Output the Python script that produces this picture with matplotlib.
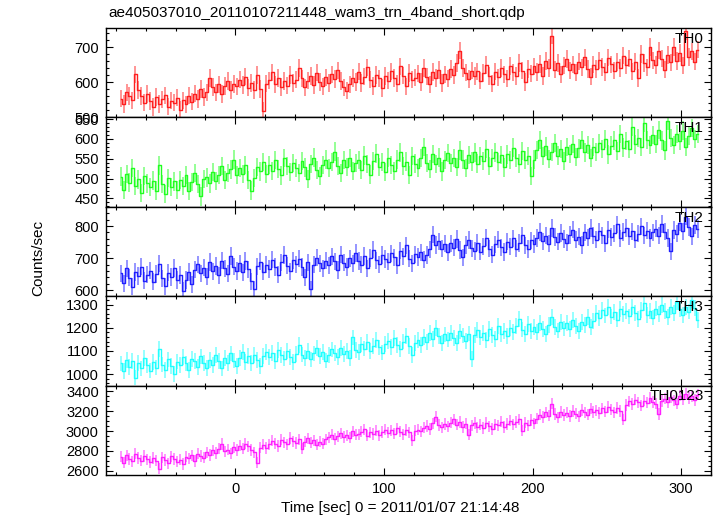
import numpy as np
import matplotlib
matplotlib.use('Agg')
import matplotlib.pyplot as plt
from matplotlib.ticker import MultipleLocator

# time grid: 2 s bins starting at -77 s
t_start = -77
t_step = 2

th0 = [553, 538, 571, 560, 548, 622, 577, 560, 541, 566,
       546, 529, 558, 537, 551, 562, 530, 547, 541, 556,
       520, 548, 536, 561, 544, 567, 552, 580, 558, 571,
       612, 586, 571, 594, 566, 589, 603, 578, 595, 588,
       607, 592, 616, 584, 598, 577, 620, 581, 517, 596,
       605, 628, 594, 612, 586, 603, 590, 621, 598, 607,
       641, 611, 585, 604, 618, 592, 627, 600, 588, 614,
       597, 622, 609, 634, 603, 585, 576, 594, 612, 601,
       630, 598, 616, 642, 607, 589, 621, 611, 583, 617,
       604, 631, 612, 596, 645, 619, 588, 626, 607, 613,
       625, 601, 640, 616, 594, 629, 612, 635, 598, 622,
       610, 638, 621, 655, 690, 640, 627, 609, 633, 618,
       631, 604, 626, 649, 617, 596, 630, 614, 641, 622,
       610, 646, 628, 617, 655, 633, 601, 638, 624, 645,
       629, 652, 618, 660, 641, 733, 636, 655, 622, 647,
       666, 634, 651, 627, 659, 642, 671, 638, 616, 650,
       637, 662, 644, 629, 670, 651, 633, 658, 641, 676,
       648, 667, 631, 659, 612, 680, 655, 642, 701, 662,
       649, 690, 667, 636, 678, 657, 700, 661, 683, 648,
       747, 672, 688, 659, 693]

th1 = [505, 472, 512, 490, 526, 481, 498, 463, 507, 488,
       479, 495, 470, 533, 486, 462, 501, 478, 493, 472,
       497, 481, 509, 468, 492, 514, 486, 455, 499, 503,
       488, 517, 494, 509, 532, 497, 515, 523, 548, 509,
       526, 511, 534, 497, 470, 502, 529, 518, 541, 512,
       535, 519, 547, 524, 508, 552, 531, 516, 540, 527,
       514, 545, 528, 499, 537, 553, 522, 506, 534, 548,
       527, 541, 568, 532, 515, 547, 530, 552, 519, 539,
       546, 521, 558, 536, 510, 544, 563, 529, 541, 517,
       553, 534, 519, 548, 566, 531, 543, 509, 556, 538,
       527, 551, 579, 540, 524, 562, 537, 553, 518, 546,
       564, 539, 552, 530, 571, 548, 526, 559, 543, 566,
       538, 557, 545, 574, 531, 552, 566, 541, 559, 528,
       561, 547, 578, 552, 538, 569, 546, 557, 506, 548,
       572, 598, 556, 581, 549, 567, 590, 558, 574, 545,
       580, 562, 588, 555, 576, 598, 566, 584, 552, 579,
       567, 589, 574, 600, 561, 583, 596, 570, 612, 578,
       594, 575, 629, 586, 603, 580, 641, 597, 585, 610,
       588, 622, 596, 571, 645, 603, 584, 612, 594, 621,
       580, 608, 627, 599, 613]

th2 = [652, 621, 668, 639, 611, 657, 644, 673, 630, 648,
       661, 626, 650, 683, 637, 612, 655, 641, 669, 632,
       647, 598, 632, 657, 618, 664, 681, 653, 670, 642,
       688, 659, 675, 646, 692, 668, 651, 707, 673, 660,
       684, 656, 691, 665, 628, 603, 674, 689, 658, 679,
       666, 695, 672, 648, 687, 710, 676, 659, 693, 681,
       698, 672, 640, 687, 603, 679, 701, 684, 668, 692,
       677, 705, 690, 663, 711, 686, 672, 699, 684, 716,
       691, 679, 707, 668, 700, 726, 693, 681, 710, 697,
       689, 715, 702, 677, 723, 706, 740, 698, 684, 712,
       703, 718, 695, 710, 727, 773, 741, 752, 729, 745,
       718, 746, 733, 760, 725, 702, 741, 756, 731, 722,
       748, 720, 737, 764, 729, 711, 743, 757, 734, 719,
       751, 736, 762, 729, 747, 771, 740, 728, 755, 744,
       763, 781, 752, 770, 745, 794, 766, 751, 778, 760,
       748, 772, 789, 757, 767, 741, 780, 764, 794, 770,
       758, 783, 771, 746, 789, 766, 777, 805, 762, 781,
       794, 768, 783, 757, 776, 799, 771, 786, 763, 780,
       792, 770, 806, 782, 763, 721, 788, 776, 811, 784,
       829, 797, 768, 803, 791]

th3 = [1046, 1012, 1062, 1031, 1057, 985, 1049, 1024, 1068, 1037,
       1015, 1052, 1028, 1108, 1041, 1019, 1063, 1036, 1001, 1054,
       1039, 1072, 1046, 1018, 1065, 1057, 1030, 1076, 1048, 1027,
       1061, 1039, 1082, 1055, 1024, 1070, 1047, 1089, 1058, 1035,
       1068, 1094, 1052, 1077, 1049, 1083, 1061, 1036, 1079, 1095,
       1072, 1090, 1056, 1104, 1081, 1067, 1099, 1075, 1052, 1088,
       1127, 1084, 1070, 1101, 1063, 1089, 1112, 1079, 1094, 1058,
       1082, 1106, 1091, 1072, 1113, 1087, 1099, 1068, 1158, 1104,
       1095, 1128, 1110, 1139, 1101, 1122, 1147, 1115, 1093, 1131,
       1142, 1118, 1155, 1127, 1109, 1140, 1164, 1121, 1082, 1135,
       1148, 1127, 1161, 1139, 1176, 1152, 1198, 1163, 1134, 1171,
       1149, 1178, 1157, 1135, 1184, 1166, 1143, 1175, 1065, 1168,
       1189, 1158, 1176, 1147, 1195, 1170, 1152, 1207, 1173, 1186,
       1165, 1198, 1181, 1209, 1238, 1192, 1174, 1216, 1187, 1203,
       1182, 1221, 1196, 1174, 1213, 1245, 1202, 1188, 1226, 1197,
       1219, 1193, 1234, 1208, 1185, 1226, 1211, 1247, 1203, 1229,
       1262, 1241, 1276, 1253, 1289, 1248, 1267, 1235, 1281, 1258,
       1272, 1249, 1290, 1263, 1238, 1277, 1305, 1256, 1271, 1244,
       1283, 1259, 1298, 1271, 1246, 1288, 1264, 1312, 1279, 1255,
       1291, 1270, 1320, 1286, 1232]

th0123 = [2741, 2683, 2756, 2718, 2694, 2773, 2730, 2702, 2748, 2715,
          2689, 2727, 2701, 2622, 2734, 2708, 2676, 2745, 2719, 2693,
          2712, 2668, 2741, 2725, 2756, 2698, 2771, 2747, 2732, 2785,
          2758, 2806, 2779, 2824, 2868, 2795, 2812, 2776, 2837, 2809,
          2851, 2823, 2872, 2845, 2809, 2786, 2682, 2834, 2861, 2829,
          2866, 2903, 2874, 2849, 2912, 2885, 2867, 2931, 2896, 2878,
          2915, 2822, 2893, 2927, 2884, 2906, 2861, 2892, 2874, 2918,
          2935, 2962, 2919, 2948, 2976, 2941, 2958, 2933, 2997, 2962,
          2966, 2993, 3018, 2954, 2987, 2971, 3004, 2958, 2990, 3012,
          2983, 3006, 2975, 3027, 2992, 2968, 3011, 2987, 2905, 3003,
          3015, 2998, 3034, 3052, 3021, 3079, 3146, 3062, 3038, 3071,
          3048, 3085, 3117, 3063, 3092, 3041, 3074, 2963, 3058, 3081,
          3036, 3065, 3029, 3083, 3047, 3022, 3069, 3056, 3094, 3041,
          3072, 3103, 3066, 3091, 3119, 3003, 3084, 3058, 3112, 3077,
          3126, 3164, 3142, 3187, 3155, 3276, 3171, 3139, 3192, 3160,
          3184, 3152, 3203, 3176, 3149, 3211, 3188, 3165, 3224, 3193,
          3208, 3181, 3229, 3196, 3242, 3215, 3187, 3233, 3201, 3115,
          3262, 3298, 3271, 3315, 3289, 3256, 3307, 3284, 3333, 3291,
          3276, 3172, 3302, 3325, 3288, 3341, 3309, 3274, 3356, 3318,
          3372, 3331, 3349, 3312, 3365]

# typical error bar half-length per band (counts/sec)
errors = [25, 23, 27, 34, 57]
names = ['TH0', 'TH1', 'TH2', 'TH3', 'TH0123']
colors = ['#ff2020', '#20ff20', '#2020ff', '#20ffff', '#ff20ff']
ylims = [(499, 755), (429, 654), (581, 860), (950, 1336), (2557, 3457)]
ymajor = [100, 50, 100, 100, 200]
yminor = [20, 10, 20, 20, 50]

series = [th0, th1, th2, th3, th0123]
t = t_start + t_step * np.arange(len(th0))

plt.rcParams['font.family'] = ['Liberation Sans', 'DejaVu Sans']
fig = plt.figure(figsize=(7.17, 5.16), dpi=100)

left, width = 0.1474, 0.8442
top, h = 0.9457, 0.17326

for i in range(5):
    ax = fig.add_axes([left, top - (i + 1) * h, width, h])
    y = np.array(series[i])
    # error bars (lighter) + bin steps (solid)
    ax.errorbar(t, y, yerr=errors[i], fmt='none', ecolor=colors[i],
                elinewidth=1.1, alpha=0.6)
    ax.step(t, y, where='mid', color=colors[i], lw=1.0)
    ax.set_xlim(-87, 320)
    ax.set_ylim(*ylims[i])
    ax.xaxis.set_major_locator(MultipleLocator(100))
    ax.xaxis.set_minor_locator(MultipleLocator(20))
    ax.yaxis.set_major_locator(MultipleLocator(ymajor[i]))
    ax.yaxis.set_minor_locator(MultipleLocator(yminor[i]))
    ax.tick_params(which='both', direction='in', top=True, right=True,
                   labelsize=10.5, width=0.8, pad=5)
    ax.tick_params(which='major', length=5)
    ax.tick_params(which='minor', length=2.5)
    for s in ax.spines.values():
        s.set_linewidth(1.0)
    if i < 4:
        ax.tick_params(labelbottom=False)
    ax.text(0.988, 0.88, names[i], transform=ax.transAxes, ha='right',
            va='center', fontsize=11)

fig.text(108 / 717, 1 - 13 / 516, 'ae405037010_20110107211448_wam3_trn_4band_short.qdp',
         ha='left', va='center', fontsize=11)
fig.text(38 / 717, 0.5, 'Counts/sec', rotation=90, ha='center', va='center',
         fontsize=11)
fig.text(400 / 717, 1 - 508 / 516, 'Time [sec] 0 = 2011/01/07 21:14:48',
         ha='center', va='center', fontsize=11)

fig.savefig('out.png', dpi=100)
